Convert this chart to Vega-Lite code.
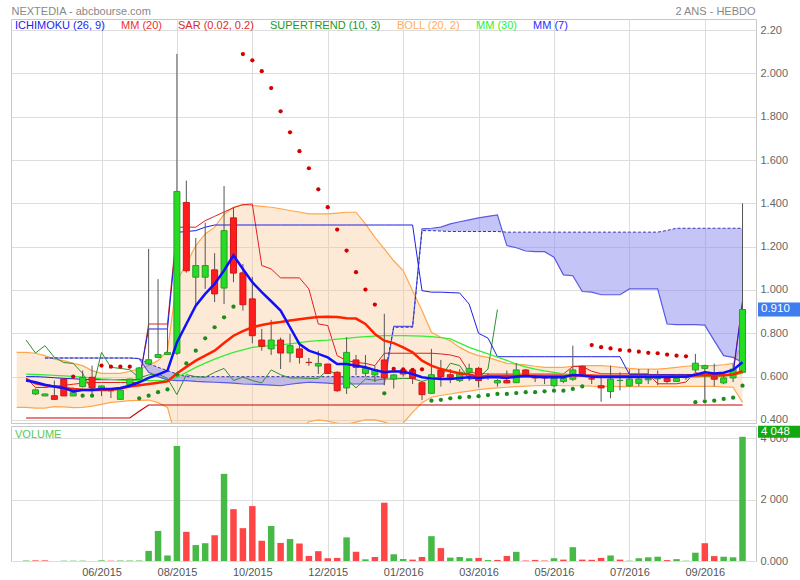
{
  "$schema": "https://vega.github.io/schema/vega-lite/v6.json",
  "padding": {"left": 10, "top": 4, "right": 0, "bottom": 0},
  "background": "white",
  "spacing": 3,
  "bounds": "flush",
  "config": {
    "font": "Liberation Sans",
    "view": {"stroke": "#c8c8c8"},
    "axis": {"gridColor": "#dddddd", "labelColor": "#666666", "labelFontSize": 11, "ticks": false, "domain": false}
  },
  "resolve": {"scale": {"color": "independent", "x": "independent", "y": "independent"}, "legend": {"color": "independent"}},
  "datasets": {
    "d": [
      {"i":-1,"bu":0.712,"bl":0.458},
      {"i":0,"v":15,"vu":1,"m7":0.582,"m20":0.589,"m30":0.612,"bu":0.712,"bl":0.458,"tk":0.594,"kj":0.6,"ck":0.769,"st":0.409},
      {"i":1,"o":0.52,"h":0.545,"l":0.515,"c":0.539,"v":20,"vu":0,"m7":0.574,"m20":0.569,"m30":0.61,"bu":0.708,"bl":0.455,"tk":0.55,"kj":0.6,"ck":0.709,"st":0.409},
      {"i":2,"o":0.511,"h":0.522,"l":0.51,"c":0.52,"v":20,"vu":0,"m7":0.563,"m20":0.56,"m30":0.608,"bu":0.697,"bl":0.455,"tk":0.55,"kj":0.598,"ck":0.743,"sa":0.686,"sb":0.686,"st":0.409},
      {"i":3,"o":0.512,"h":0.582,"l":0.495,"c":0.495,"v":0,"vu":1,"m7":0.554,"m20":0.554,"m30":0.606,"bu":0.681,"bl":0.462,"tk":0.555,"kj":0.595,"ck":0.689,"sa":0.686,"sb":0.686,"st":0.409},
      {"i":4,"o":0.589,"h":0.592,"l":0.511,"c":0.511,"v":10,"vu":1,"m7":0.548,"m20":0.548,"m30":0.604,"bu":0.674,"bl":0.46,"tk":0.56,"kj":0.592,"ck":0.665,"sa":0.686,"sb":0.686,"st":0.409},
      {"i":5,"o":0.511,"h":0.55,"l":0.51,"c":0.526,"v":10,"vu":1,"m7":0.532,"m20":0.543,"m30":0.601,"bu":0.661,"bl":0.457,"sar":0.6,"tk":0.565,"kj":0.59,"ck":0.661,"sa":0.686,"sb":0.686,"st":0.409},
      {"i":6,"o":0.554,"h":0.628,"l":0.55,"c":0.597,"v":10,"vu":1,"m7":0.538,"m20":0.54,"m30":0.598,"bu":0.651,"bl":0.458,"sar":0.512,"tk":0.57,"kj":0.588,"ck":0.615,"sa":0.686,"sb":0.686,"st":0.409},
      {"i":7,"o":0.597,"h":0.651,"l":0.52,"c":0.548,"v":0,"vu":0,"m7":0.538,"m20":0.538,"m30":0.594,"bu":0.628,"bl":0.464,"sar":0.512,"tk":0.573,"kj":0.586,"ck":0.535,"sa":0.686,"sb":0.686,"st":0.409},
      {"i":8,"o":0.548,"h":0.56,"l":0.51,"c":0.557,"v":20,"vu":1,"m7":0.543,"m20":0.538,"m30":0.59,"bu":0.615,"bl":0.472,"sar":0.651,"tk":0.573,"kj":0.586,"ck":0.712,"sa":0.686,"sb":0.686,"st":0.409},
      {"i":9,"o":0.535,"h":0.548,"l":0.501,"c":0.535,"v":10,"vu":0,"m7":0.543,"m20":0.538,"m30":0.587,"bu":0.615,"bl":0.481,"sar":0.646,"tk":0.573,"kj":0.586,"ck":0.643,"sa":0.686,"sb":0.686,"st":0.409},
      {"i":10,"o":0.495,"h":0.54,"l":0.495,"c":0.538,"v":15,"vu":1,"m7":0.548,"m20":0.545,"m30":0.584,"bu":0.615,"bl":0.485,"sar":0.646,"tk":0.573,"kj":0.586,"ck":0.638,"sa":0.686,"sb":0.686,"st":0.409},
      {"i":11,"o":0.563,"h":0.59,"l":0.56,"c":0.589,"v":15,"vu":1,"m7":0.558,"m20":0.554,"m30":0.582,"bu":0.625,"bl":0.489,"sar":0.646,"tk":0.573,"kj":0.586,"ck":0.632,"sa":0.686,"sb":0.686,"st":0.409},
      {"i":12,"o":0.588,"h":0.645,"l":0.585,"c":0.64,"v":15,"vu":1,"m7":0.574,"m20":0.56,"m30":0.582,"bu":0.635,"bl":0.49,"sar":0.5,"tk":0.573,"kj":0.586,"ck":0.594,"sa":0.683,"sb":0.683,"st":0.44},
      {"i":13,"o":0.659,"h":1.19,"l":0.655,"c":0.678,"v":330,"vu":1,"m7":0.594,"m20":0.566,"m30":0.582,"bu":0.651,"bl":0.492,"sar":0.512,"tk":0.843,"kj":0.82,"ck":0.608,"sa":0.62,"sb":0.66,"st":0.469},
      {"i":14,"o":0.689,"h":1.05,"l":0.685,"c":0.702,"v":980,"vu":1,"m7":0.609,"m20":0.572,"m30":0.582,"bu":0.674,"bl":0.48,"sar":0.528,"tk":0.843,"kj":0.82,"ck":0.612,"sa":0.6,"sb":0.643,"st":0.469},
      {"i":15,"o":0.702,"h":0.85,"l":0.7,"c":0.711,"v":180,"vu":1,"m7":0.628,"m20":0.578,"m30":0.582,"bu":0.72,"bl":0.458,"sar":0.541,"tk":0.843,"kj":0.82,"ck":0.592,"sa":0.585,"sb":0.628,"st":0.469},
      {"i":16,"o":0.708,"h":2.09,"l":0.7,"c":1.455,"v":3750,"vu":1,"m7":0.758,"m20":0.615,"m30":0.597,"bu":1.043,"bl":0.3,"sar":0.609,"tk":1.29,"kj":1.266,"ck":0.517,"sa":0.582,"sb":0.612,"st":0.469},
      {"i":17,"o":1.404,"h":1.505,"l":1.08,"c":1.089,"v":950,"vu":0,"m7":0.843,"m20":0.645,"m30":0.62,"bu":1.12,"bl":0.2,"sar":0.661,"tk":1.29,"kj":1.27,"ck":0.609,"sa":0.582,"sb":0.6,"st":0.469},
      {"i":18,"o":1.059,"h":1.24,"l":0.928,"c":1.113,"v":520,"vu":1,"m7":0.928,"m20":0.674,"m30":0.643,"bu":1.205,"bl":0.14,"sar":0.72,"tk":1.29,"kj":1.274,"ck":0.6,"sa":0.578,"sb":0.6,"st":0.469},
      {"i":19,"o":1.059,"h":1.31,"l":1.005,"c":1.113,"v":580,"vu":1,"m7":0.982,"m20":0.697,"m30":0.662,"bu":1.259,"bl":0.11,"sar":0.777,"tk":1.32,"kj":1.29,"ck":0.597,"sa":0.576,"sb":0.6,"st":0.469},
      {"i":20,"o":1.093,"h":1.17,"l":0.944,"c":0.982,"v":840,"vu":0,"m7":1.028,"m20":0.72,"m30":0.681,"bu":1.29,"bl":0.1,"sar":0.828,"tk":1.34,"kj":1.3,"ck":0.62,"sa":0.574,"sb":0.6,"st":0.469},
      {"i":21,"o":1.009,"h":1.48,"l":0.935,"c":1.274,"v":2840,"vu":1,"m7":1.09,"m20":0.755,"m30":0.697,"bu":1.35,"bl":0.08,"sar":0.874,"tk":1.36,"kj":1.3,"ck":0.638,"sa":0.572,"sb":0.6,"st":0.469},
      {"i":22,"o":1.333,"h":1.38,"l":1.036,"c":1.078,"v":1690,"vu":0,"m7":1.16,"m20":0.789,"m30":0.712,"bu":1.382,"bl":0.07,"sar":0.923,"tk":1.38,"kj":1.3,"ck":0.582,"sa":0.57,"sb":0.6,"st":0.469},
      {"i":23,"o":1.079,"h":1.12,"l":0.905,"c":0.932,"v":1070,"vu":0,"m7":1.097,"m20":0.81,"m30":0.724,"bu":1.394,"bl":0.08,"sar":2.089,"tk":1.394,"kj":1.3,"ck":0.598,"sa":0.566,"sb":0.6,"st":0.469},
      {"i":24,"o":0.959,"h":1.06,"l":0.754,"c":0.789,"v":1790,"vu":0,"m7":1.036,"m20":0.828,"m30":0.735,"bu":1.39,"bl":0.12,"sar":2.06,"tk":1.397,"kj":1.3,"ck":0.582,"sa":0.565,"sb":0.6,"st":0.469},
      {"i":25,"o":0.769,"h":0.82,"l":0.72,"c":0.74,"v":660,"vu":0,"m7":0.99,"m20":0.838,"m30":0.74,"bu":1.386,"bl":0.18,"sar":2.01,"tk":1.113,"kj":1.3,"ck":0.571,"sa":0.563,"sb":0.6,"st":0.469},
      {"i":26,"o":0.728,"h":0.862,"l":0.7,"c":0.769,"v":1140,"vu":1,"m7":0.948,"m20":0.846,"m30":0.743,"bu":1.382,"bl":0.24,"sar":1.932,"tk":1.097,"kj":1.3,"ck":0.631,"sa":0.561,"sb":0.6,"st":0.469},
      {"i":27,"o":0.769,"h":0.78,"l":0.635,"c":0.709,"v":590,"vu":0,"m7":0.905,"m20":0.852,"m30":0.747,"bu":1.375,"bl":0.29,"sar":1.825,"tk":1.056,"kj":1.3,"ck":0.609,"sa":0.558,"sb":0.6,"st":0.469},
      {"i":28,"o":0.709,"h":0.797,"l":0.666,"c":0.743,"v":715,"vu":1,"m7":0.828,"m20":0.859,"m30":0.751,"bu":1.367,"bl":0.33,"sar":1.728,"tk":1.056,"kj":1.3,"ck":0.594,"sa":0.565,"sb":0.6,"st":0.469},
      {"i":29,"o":0.728,"h":0.743,"l":0.66,"c":0.689,"v":570,"vu":0,"m7":0.75,"m20":0.865,"m30":0.757,"bu":1.36,"bl":0.36,"sar":1.641,"tk":1.056,"kj":1.3,"ck":0.594,"sa":0.57,"sb":0.6,"st":0.469},
      {"i":30,"o":0.666,"h":0.686,"l":0.65,"c":0.665,"v":165,"vu":0,"m7":0.72,"m20":0.871,"m30":0.763,"bu":1.351,"bl":0.392,"sar":1.562,"tk":1.005,"kj":1.3,"ck":0.592,"sa":0.574,"sb":0.6,"st":0.469},
      {"i":31,"o":0.649,"h":0.72,"l":0.612,"c":0.661,"v":320,"vu":0,"m7":0.705,"m20":0.875,"m30":0.766,"bu":1.351,"bl":0.4,"sar":1.465,"tk":0.843,"kj":1.3,"ck":0.592,"sa":0.572,"sb":0.6,"st":0.469},
      {"i":32,"o":0.658,"h":0.66,"l":0.612,"c":0.615,"v":90,"vu":0,"m7":0.689,"m20":0.877,"m30":0.769,"bu":1.351,"bl":0.395,"sar":1.382,"tk":0.836,"kj":1.3,"ck":0.631,"sa":0.57,"sb":0.6,"st":0.469},
      {"i":33,"o":0.62,"h":0.625,"l":0.53,"c":0.535,"v":100,"vu":0,"m7":0.658,"m20":0.875,"m30":0.773,"bu":1.355,"bl":0.385,"sar":1.279,"tk":0.697,"kj":1.3,"ck":0.609,"sa":0.566,"sb":0.6,"st":0.469},
      {"i":34,"o":0.548,"h":0.782,"l":0.52,"c":0.712,"v":770,"vu":1,"m7":0.658,"m20":0.87,"m30":0.777,"bu":1.359,"bl":0.38,"sar":1.182,"tk":0.674,"kj":1.3,"ck":0.589,"sa":0.566,"sb":0.6,"st":0.469},
      {"i":35,"o":0.677,"h":0.7,"l":0.606,"c":0.643,"v":300,"vu":0,"m7":0.65,"m20":0.868,"m30":0.781,"bu":1.359,"bl":0.39,"sar":1.082,"tk":0.666,"kj":1.3,"ck":0.548,"sa":0.566,"sb":0.6,"st":0.469},
      {"i":36,"o":0.615,"h":0.7,"l":0.6,"c":0.638,"v":55,"vu":1,"m7":0.643,"m20":0.843,"m30":0.785,"bu":1.305,"bl":0.401,"sar":1.002,"tk":0.661,"kj":1.3,"ck":0.589,"sa":0.566,"sb":0.6,"st":0.469},
      {"i":37,"o":0.608,"h":0.65,"l":0.575,"c":0.632,"v":130,"vu":0,"m7":0.63,"m20":0.797,"m30":0.787,"bu":1.243,"bl":0.4,"sar":0.933,"tk":0.651,"kj":1.3,"ck":0.583,"sa":0.566,"sb":0.6,"st":0.469},
      {"i":38,"o":0.677,"h":0.89,"l":0.56,"c":0.594,"v":1900,"vu":0,"m7":0.62,"m20":0.766,"m30":0.789,"bu":1.19,"bl":0.39,"sar":0.523,"tk":0.708,"kj":1.3,"ck":0.589,"sa":0.566,"sb":0.6,"st":0.469},
      {"i":39,"o":0.589,"h":0.612,"l":0.545,"c":0.608,"v":220,"vu":1,"m7":0.625,"m20":0.755,"m30":0.789,"bu":1.135,"bl":0.375,"sar":0.636,"tk":0.708,"kj":1.3,"ck":0.589,"sa":0.832,"sb":0.828,"st":0.469},
      {"i":40,"o":0.631,"h":0.64,"l":0.6,"c":0.612,"v":65,"vu":1,"m7":0.623,"m20":0.735,"m30":0.789,"bu":1.09,"bl":0.385,"sar":0.634,"tk":0.708,"kj":1.3,"ck":0.592,"sa":0.832,"sb":0.828,"st":0.469},
      {"i":41,"o":0.631,"h":0.64,"l":0.566,"c":0.592,"v":45,"vu":0,"m7":0.612,"m20":0.712,"m30":0.788,"bu":0.997,"bl":0.435,"sar":0.631,"tk":0.708,"kj":1.3,"ck":0.591,"sa":0.832,"sb":0.828,"st":0.469},
      {"i":42,"o":0.572,"h":0.58,"l":0.492,"c":0.517,"v":130,"vu":0,"m7":0.597,"m20":0.674,"m30":0.787,"bu":0.905,"bl":0.48,"sar":0.634,"tk":0.708,"kj":0.997,"ck":0.578,"sa":1.282,"sb":1.274,"st":0.469},
      {"i":43,"o":0.523,"h":0.728,"l":0.52,"c":0.609,"v":810,"vu":1,"m7":0.592,"m20":0.651,"m30":0.785,"bu":0.805,"bl":0.505,"sar":0.489,"tk":0.708,"kj":0.99,"ck":0.592,"sa":1.285,"sb":1.274,"st":0.469},
      {"i":44,"o":0.631,"h":0.677,"l":0.554,"c":0.6,"v":420,"vu":0,"m7":0.589,"m20":0.635,"m30":0.78,"bu":0.782,"bl":0.513,"sar":0.493,"tk":0.705,"kj":0.99,"ck":0.596,"sa":1.29,"sb":1.272,"st":0.469},
      {"i":45,"o":0.609,"h":0.635,"l":0.57,"c":0.597,"v":110,"vu":1,"m7":0.589,"m20":0.625,"m30":0.774,"bu":0.766,"bl":0.52,"sar":0.5,"tk":0.7,"kj":0.988,"ck":0.662,"sa":1.305,"sb":1.27,"st":0.469},
      {"i":46,"o":0.582,"h":0.635,"l":0.575,"c":0.62,"v":130,"vu":1,"m7":0.594,"m20":0.615,"m30":0.755,"bu":0.735,"bl":0.527,"sar":0.504,"tk":0.689,"kj":0.986,"ck":0.651,"sa":1.315,"sb":1.27,"st":0.469},
      {"i":47,"o":0.62,"h":0.66,"l":0.58,"c":0.638,"v":90,"vu":1,"m7":0.597,"m20":0.61,"m30":0.735,"bu":0.712,"bl":0.533,"sar":0.507,"tk":0.62,"kj":0.935,"ck":0.588,"sa":1.324,"sb":1.27,"st":0.469},
      {"i":48,"o":0.638,"h":0.645,"l":0.55,"c":0.582,"v":100,"vu":0,"m7":0.594,"m20":0.6,"m30":0.72,"bu":0.697,"bl":0.54,"sar":0.51,"tk":0.615,"kj":0.8,"ck":0.594,"sa":1.333,"sb":1.27,"st":0.469},
      {"i":49,"o":0.6,"h":0.615,"l":0.585,"c":0.598,"v":30,"vu":1,"m7":0.597,"m20":0.603,"m30":0.705,"bu":0.689,"bl":0.545,"sar":0.515,"tk":0.612,"kj":0.778,"ck":0.635,"sa":1.34,"sb":1.27,"st":0.469},
      {"i":50,"o":0.571,"h":0.59,"l":0.554,"c":0.582,"v":35,"vu":0,"m7":0.597,"m20":0.603,"m30":0.69,"bu":0.675,"bl":0.548,"sar":0.52,"tk":0.612,"kj":0.692,"ck":0.91,"sa":1.347,"sb":1.27,"st":0.469},
      {"i":51,"o":0.582,"h":0.628,"l":0.57,"c":0.571,"v":165,"vu":0,"m7":0.594,"m20":0.603,"m30":0.675,"bu":0.661,"bl":0.551,"sar":0.52,"tk":0.612,"kj":0.692,"sa":1.205,"sb":1.267,"st":0.469},
      {"i":52,"o":0.572,"h":0.662,"l":0.57,"c":0.631,"v":300,"vu":1,"m7":0.6,"m20":0.603,"m30":0.658,"bu":0.658,"bl":0.554,"sar":0.524,"tk":0.612,"kj":0.692,"sa":1.195,"sb":1.267,"st":0.469},
      {"i":53,"o":0.631,"h":0.635,"l":0.6,"c":0.609,"v":20,"vu":0,"m7":0.603,"m20":0.603,"m30":0.645,"bu":0.654,"bl":0.556,"sar":0.528,"tk":0.612,"kj":0.692,"sa":1.18,"sb":1.267,"st":0.469},
      {"i":54,"o":0.6,"h":0.609,"l":0.575,"c":0.594,"v":35,"vu":0,"m7":0.6,"m20":0.603,"m30":0.635,"bu":0.648,"bl":0.558,"sar":0.528,"tk":0.612,"kj":0.692,"sa":1.177,"sb":1.267,"st":0.469},
      {"i":55,"o":0.597,"h":0.605,"l":0.566,"c":0.594,"v":15,"vu":0,"m7":0.597,"m20":0.603,"m30":0.627,"bu":0.643,"bl":0.56,"sar":0.532,"tk":0.612,"kj":0.692,"sa":1.177,"sb":1.267,"st":0.469},
      {"i":56,"o":0.558,"h":0.6,"l":0.55,"c":0.592,"v":90,"vu":1,"m7":0.597,"m20":0.603,"m30":0.62,"bu":0.643,"bl":0.559,"sar":0.535,"tk":0.612,"kj":0.692,"sa":1.151,"sb":1.267,"st":0.469},
      {"i":57,"o":0.578,"h":0.6,"l":0.57,"c":0.592,"v":45,"vu":0,"m7":0.597,"m20":0.603,"m30":0.613,"bu":0.643,"bl":0.558,"sar":0.535,"tk":0.612,"kj":0.692,"sa":1.07,"sb":1.267,"st":0.469},
      {"i":58,"o":0.588,"h":0.743,"l":0.58,"c":0.631,"v":450,"vu":1,"m7":0.608,"m20":0.605,"m30":0.608,"bu":0.648,"bl":0.558,"sar":0.543,"tk":0.647,"kj":0.692,"sa":1.066,"sb":1.267,"st":0.469},
      {"i":59,"o":0.648,"h":0.65,"l":0.6,"c":0.609,"v":45,"vu":0,"m7":0.605,"m20":0.605,"m30":0.605,"bu":0.651,"bl":0.558,"sar":0.555,"tk":0.647,"kj":0.692,"sa":0.993,"sb":1.267,"st":0.469},
      {"i":60,"o":0.59,"h":0.609,"l":0.566,"c":0.589,"v":40,"vu":0,"m7":0.6,"m20":0.605,"m30":0.602,"bu":0.651,"bl":0.556,"sar":0.746,"tk":0.625,"kj":0.692,"sa":0.99,"sb":1.267,"st":0.469},
      {"i":61,"o":0.558,"h":0.597,"l":0.484,"c":0.548,"v":100,"vu":0,"m7":0.598,"m20":0.603,"m30":0.6,"bu":0.651,"bl":0.555,"sar":0.736,"tk":0.613,"kj":0.692,"sa":0.978,"sb":1.267,"st":0.469},
      {"i":62,"o":0.531,"h":0.651,"l":0.5,"c":0.589,"v":180,"vu":1,"m7":0.598,"m20":0.603,"m30":0.598,"bu":0.648,"bl":0.555,"sar":0.73,"tk":0.613,"kj":0.692,"sa":0.978,"sb":1.267,"st":0.469},
      {"i":63,"o":0.582,"h":0.62,"l":0.536,"c":0.583,"v":45,"vu":0,"m7":0.598,"m20":0.603,"m30":0.597,"bu":0.643,"bl":0.554,"sar":0.723,"tk":0.613,"kj":0.692,"sa":0.978,"sb":1.267,"st":0.469},
      {"i":64,"o":0.557,"h":0.635,"l":0.555,"c":0.589,"v":10,"vu":1,"m7":0.598,"m20":0.603,"m30":0.597,"bu":0.638,"bl":0.554,"sar":0.72,"tk":0.613,"kj":0.61,"sa":1.005,"sb":1.267,"st":0.469},
      {"i":65,"o":0.569,"h":0.635,"l":0.555,"c":0.589,"v":90,"vu":1,"m7":0.598,"m20":0.603,"m30":0.597,"bu":0.635,"bl":0.554,"sar":0.715,"tk":0.613,"kj":0.61,"sa":1.005,"sb":1.267,"st":0.469},
      {"i":66,"o":0.585,"h":0.635,"l":0.566,"c":0.592,"v":120,"vu":1,"m7":0.598,"m20":0.603,"m30":0.597,"bu":0.635,"bl":0.554,"sar":0.71,"tk":0.613,"kj":0.61,"sa":1.005,"sb":1.267,"st":0.469},
      {"i":67,"o":0.59,"h":0.628,"l":0.56,"c":0.591,"v":140,"vu":1,"m7":0.598,"m20":0.603,"m30":0.597,"bu":0.635,"bl":0.554,"sar":0.708,"tk":0.567,"kj":0.61,"sa":1.005,"sb":1.267,"st":0.469},
      {"i":68,"o":0.592,"h":0.6,"l":0.57,"c":0.578,"v":30,"vu":0,"m7":0.598,"m20":0.603,"m30":0.597,"bu":0.638,"bl":0.554,"sar":0.702,"tk":0.567,"kj":0.61,"sa":0.843,"sb":1.275,"st":0.469},
      {"i":69,"o":0.578,"h":0.6,"l":0.575,"c":0.592,"v":60,"vu":1,"m7":0.6,"m20":0.603,"m30":0.597,"bu":0.643,"bl":0.554,"sar":0.697,"tk":0.567,"kj":0.61,"sa":0.84,"sb":1.285,"st":0.469},
      {"i":70,"o":0.595,"h":0.607,"l":0.585,"c":0.596,"v":10,"vu":1,"m7":0.6,"m20":0.603,"m30":0.597,"bu":0.648,"bl":0.555,"sar":0.694,"tk":0.575,"kj":0.61,"sa":0.84,"sb":1.285,"st":0.469},
      {"i":71,"o":0.631,"h":0.705,"l":0.62,"c":0.662,"v":270,"vu":1,"m7":0.609,"m20":0.605,"m30":0.598,"bu":0.651,"bl":0.555,"sar":0.482,"tk":0.62,"kj":0.61,"sa":0.84,"sb":1.285,"st":0.469},
      {"i":72,"o":0.638,"h":0.655,"l":0.497,"c":0.651,"v":580,"vu":0,"m7":0.62,"m20":0.607,"m30":0.6,"bu":0.651,"bl":0.555,"sar":0.486,"tk":0.601,"kj":0.61,"sa":0.838,"sb":1.285,"st":0.469},
      {"i":73,"o":0.6,"h":0.66,"l":0.555,"c":0.588,"v":160,"vu":0,"m7":0.615,"m20":0.607,"m30":0.6,"bu":0.651,"bl":0.555,"sar":0.489,"tk":0.601,"kj":0.61,"sa":0.766,"sb":1.285,"st":0.469},
      {"i":74,"o":0.571,"h":0.605,"l":0.565,"c":0.594,"v":140,"vu":1,"m7":0.618,"m20":0.607,"m30":0.603,"bu":0.655,"bl":0.553,"sar":0.497,"tk":0.601,"kj":0.61,"sa":0.697,"sb":1.285,"st":0.469},
      {"i":75,"o":0.594,"h":0.66,"l":0.575,"c":0.635,"v":120,"vu":1,"m7":0.631,"m20":0.61,"m30":0.608,"bu":0.661,"bl":0.551,"sar":0.503,"tk":0.62,"kj":0.61,"sa":0.689,"sb":1.285,"st":0.469},
      {"i":76,"o":0.62,"h":1.4,"l":0.615,"c":0.91,"v":4048,"vu":1,"m7":0.666,"m20":0.625,"m30":0.615,"bu":0.755,"bl":0.481,"sar":0.558,"tk":0.95,"kj":0.942,"sa":0.666,"sb":1.285,"st":0.469}
    ]
  },
  "vconcat": [
    {
      "width": 745,
      "height": 404,
      "data": {"name": "d"},
      "encoding": {
        "x": {
          "field": "i", "type": "quantitative",
          "scale": {"domain": [-1.07, 76.9], "nice": false, "zero": false},
          "axis": {
            "orient": "top", "values": [8, 16, 24, 32, 40, 48, 56, 64, 72], "labels": false, "grid": true,
            "title": "NEXTEDIA - abcbourse.com", "titleX": 0, "titleY": -5, "titleAlign": "left", "titleAngle": 0,
            "titleBaseline": "alphabetic", "titleFontSize": 11, "titleFontWeight": "normal", "titleColor": "#888888"
          }
        }
      },
      "layer": [
        {
          "mark": {"type": "area", "color": "#f8c48a", "opacity": 0.35, "clip": true},
          "encoding": {
            "y": {
              "field": "bl", "type": "quantitative",
              "scale": {"domain": [0.386, 2.251], "nice": false, "zero": false},
              "axis": {
                "orient": "right", "values": [0.4, 0.6, 0.8, 1.0, 1.2, 1.4, 1.6, 1.8, 2.0, 2.2],
                "labelExpr": "datum.value > 2.1 ? '2.20' : format(datum.value, '.3f')",
                "grid": true, "labelPadding": 4,
                "title": "2 ANS - HEBDO", "titleAngle": 0, "titleAlign": "right", "titleBaseline": "alphabetic",
                "titleX": -1, "titleY": -5, "titleFontSize": 11, "titleFontWeight": "normal", "titleColor": "#888888"
              }
            },
            "y2": {"field": "bu"}
          }
        },
        {"mark": {"type": "line", "color": "#ffa64d", "strokeWidth": 1.2, "clip": true}, "encoding": {"y": {"field": "bu", "type": "quantitative"}}},
        {"mark": {"type": "line", "color": "#ffa64d", "strokeWidth": 1.2, "clip": true}, "encoding": {"y": {"field": "bl", "type": "quantitative"}}},
        {
          "transform": [{"filter": "isValid(datum.sa)"}],
          "mark": {"type": "area", "color": "#8a8aef", "opacity": 0.5, "clip": true},
          "encoding": {"y": {"field": "sa", "type": "quantitative"}, "y2": {"field": "sb"}}
        },
        {"mark": {"type": "line", "color": "#5a5ae6", "strokeWidth": 1.2, "clip": true}, "encoding": {"y": {"field": "sa", "type": "quantitative"}}},
        {"mark": {"type": "line", "color": "#3434b0", "strokeWidth": 1, "strokeDash": [3, 2], "clip": true}, "encoding": {"y": {"field": "sb", "type": "quantitative"}}},
        {"mark": {"type": "line", "color": "#cc0000", "strokeWidth": 1.2, "clip": true}, "encoding": {"y": {"field": "st", "type": "quantitative"}}},
        {"mark": {"type": "line", "color": "#2f8f2f", "strokeWidth": 1, "clip": true}, "encoding": {"y": {"field": "ck", "type": "quantitative"}}},
        {"mark": {"type": "line", "color": "#e02020", "strokeWidth": 1, "clip": true}, "encoding": {"y": {"field": "tk", "type": "quantitative"}}},
        {"mark": {"type": "line", "color": "#1e1ee6", "strokeWidth": 1, "clip": true}, "encoding": {"y": {"field": "kj", "type": "quantitative"}}},
        {"mark": {"type": "line", "color": "#33ee33", "strokeWidth": 1.3, "clip": true}, "encoding": {"y": {"field": "m30", "type": "quantitative"}}},
        {"mark": {"type": "rule", "color": "#555555", "strokeWidth": 1, "clip": true}, "encoding": {"y": {"field": "l", "type": "quantitative"}, "y2": {"field": "h"}}},
        {
          "mark": {"type": "bar", "width": 6, "strokeWidth": 1, "clip": true},
          "encoding": {
            "y": {"field": "o", "type": "quantitative"},
            "y2": {"field": "c"},
            "fill": {"condition": {"test": "datum.c >= datum.o", "value": "#22dd22"}, "value": "#ff1c1c"},
            "stroke": {"condition": {"test": "datum.c >= datum.o", "value": "#2f9a2f"}, "value": "#cc1818"}
          }
        },
        {"mark": {"type": "line", "color": "#ff2200", "strokeWidth": 2.5, "clip": true}, "encoding": {"y": {"field": "m20", "type": "quantitative"}}},
        {"mark": {"type": "line", "color": "#1010ff", "strokeWidth": 2.5, "clip": true}, "encoding": {"y": {"field": "m7", "type": "quantitative"}}},
        {
          "mark": {"type": "circle", "size": 18, "opacity": 1, "clip": true},
          "encoding": {
            "y": {"field": "sar", "type": "quantitative"},
            "color": {"condition": {"test": "datum.sar > datum.c", "value": "#d40000"}, "value": "#1c8c1c"}
          }
        },
        {
          "data": {"values": [{"name": "ICHIMOKU (26, 9)"}, {"name": "MM (20)"}, {"name": "SAR (0.02, 0.2)"}, {"name": "SUPERTREND (10, 3)"}, {"name": "BOLL (20, 2)"}, {"name": "MM (30)"}, {"name": "MM (7)"}]},
          "mark": {"type": "point", "opacity": 0},
          "encoding": {
            "color": {
              "field": "name", "type": "nominal",
              "scale": {
                "domain": ["ICHIMOKU (26, 9)", "MM (20)", "SAR (0.02, 0.2)", "SUPERTREND (10, 3)", "BOLL (20, 2)", "MM (30)", "MM (7)"],
                "range": ["#2323f0", "#f03030", "#e02a2a", "#229922", "#ffad5c", "#30ee30", "#2a2aff"]
              },
              "legend": {
                "orient": "none", "legendX": 5, "legendY": 1.5, "direction": "horizontal", "columns": 7, "title": null,
                "symbolSize": 0, "symbolOpacity": 0, "symbolStrokeWidth": 0, "labelOffset": -12, "columnPadding": 16, "padding": 0,
                "labelFontSize": 11, "labelLimit": 0,
                "labelColor": {"expr": "datum.label == 'ICHIMOKU (26, 9)' ? '#2323f0' : datum.label == 'MM (20)' ? '#f03030' : datum.label == 'SAR (0.02, 0.2)' ? '#e02a2a' : datum.label == 'SUPERTREND (10, 3)' ? '#229922' : datum.label == 'BOLL (20, 2)' ? '#ffad5c' : datum.label == 'MM (30)' ? '#30ee30' : '#2a2aff'"}
              }
            }
          }
        },
        {
          "transform": [{"filter": "datum.i == 76"}],
          "mark": {"type": "rect", "color": "#3d7df0", "yOffset": -7, "y2Offset": 7},
          "encoding": {"x": {"value": 747}, "x2": {"value": 792}, "y": {"field": "c", "type": "quantitative"}, "y2": {"field": "c"}}
        },
        {
          "transform": [{"filter": "datum.i == 76"}, {"calculate": "format(datum.c, '.3f')", "as": "lab"}],
          "mark": {"type": "text", "align": "left", "baseline": "middle", "color": "white", "fontSize": 11.5},
          "encoding": {"x": {"value": 750}, "y": {"field": "c", "type": "quantitative"}, "text": {"field": "lab"}}
        }
      ]
    },
    {
      "width": 745,
      "height": 135,
      "data": {"name": "d"},
      "encoding": {
        "x": {
          "field": "i", "type": "quantitative",
          "scale": {"domain": [-1.07, 76.9], "nice": false, "zero": false},
          "axis": {
            "values": [8, 16, 24, 32, 40, 48, 56, 64, 72],
            "labelExpr": "['06/2015','08/2015','10/2015','12/2015','01/2016','03/2016','05/2016','07/2016','09/2016'][datum.value / 8 - 1]",
            "grid": true, "title": null, "labelPadding": 5, "labelColor": "#555555"
          }
        }
      },
      "layer": [
        {
          "mark": {"type": "bar", "width": 6.5},
          "encoding": {
            "y": {
              "field": "v", "type": "quantitative",
              "scale": {"domain": [0, 4400], "nice": false},
              "axis": {
                "orient": "right", "values": [0, 2000, 4000],
                "labelExpr": "datum.value == 0 ? '0.000' : (datum.value == 2000 ? '2 000' : '4 000')",
                "grid": true, "title": null, "labelPadding": 4
              }
            },
            "color": {"condition": {"test": "datum.vu == 1", "value": "#46b946"}, "value": "#ff4646"}
          }
        },
        {
          "data": {"values": [{"name": "VOLUME"}]},
          "mark": {"type": "point", "opacity": 0},
          "encoding": {
            "color": {
              "field": "name", "type": "nominal",
              "scale": {"domain": ["VOLUME"], "range": ["#55c855"]},
              "legend": {
                "orient": "none", "legendX": 5, "legendY": 3.5, "title": null,
                "symbolSize": 0, "symbolOpacity": 0, "symbolStrokeWidth": 0, "labelOffset": -12, "padding": 0,
                "labelFontSize": 11, "labelColor": "#55c855"
              }
            }
          }
        },
        {
          "transform": [{"filter": "datum.i == 76"}],
          "mark": {"type": "rect", "color": "#11a811", "yOffset": -11, "y2Offset": 1},
          "encoding": {"x": {"value": 747}, "x2": {"value": 792}, "y": {"field": "v", "type": "quantitative"}, "y2": {"field": "v"}}
        },
        {
          "transform": [{"filter": "datum.i == 76"}, {"calculate": "replace(format(datum.v, ','), ',', ' ')", "as": "lab"}],
          "mark": {"type": "text", "align": "left", "baseline": "middle", "color": "white", "fontSize": 11.5, "dy": -5},
          "encoding": {"x": {"value": 750}, "y": {"field": "v", "type": "quantitative"}, "text": {"field": "lab"}}
        }
      ]
    }
  ]
}
